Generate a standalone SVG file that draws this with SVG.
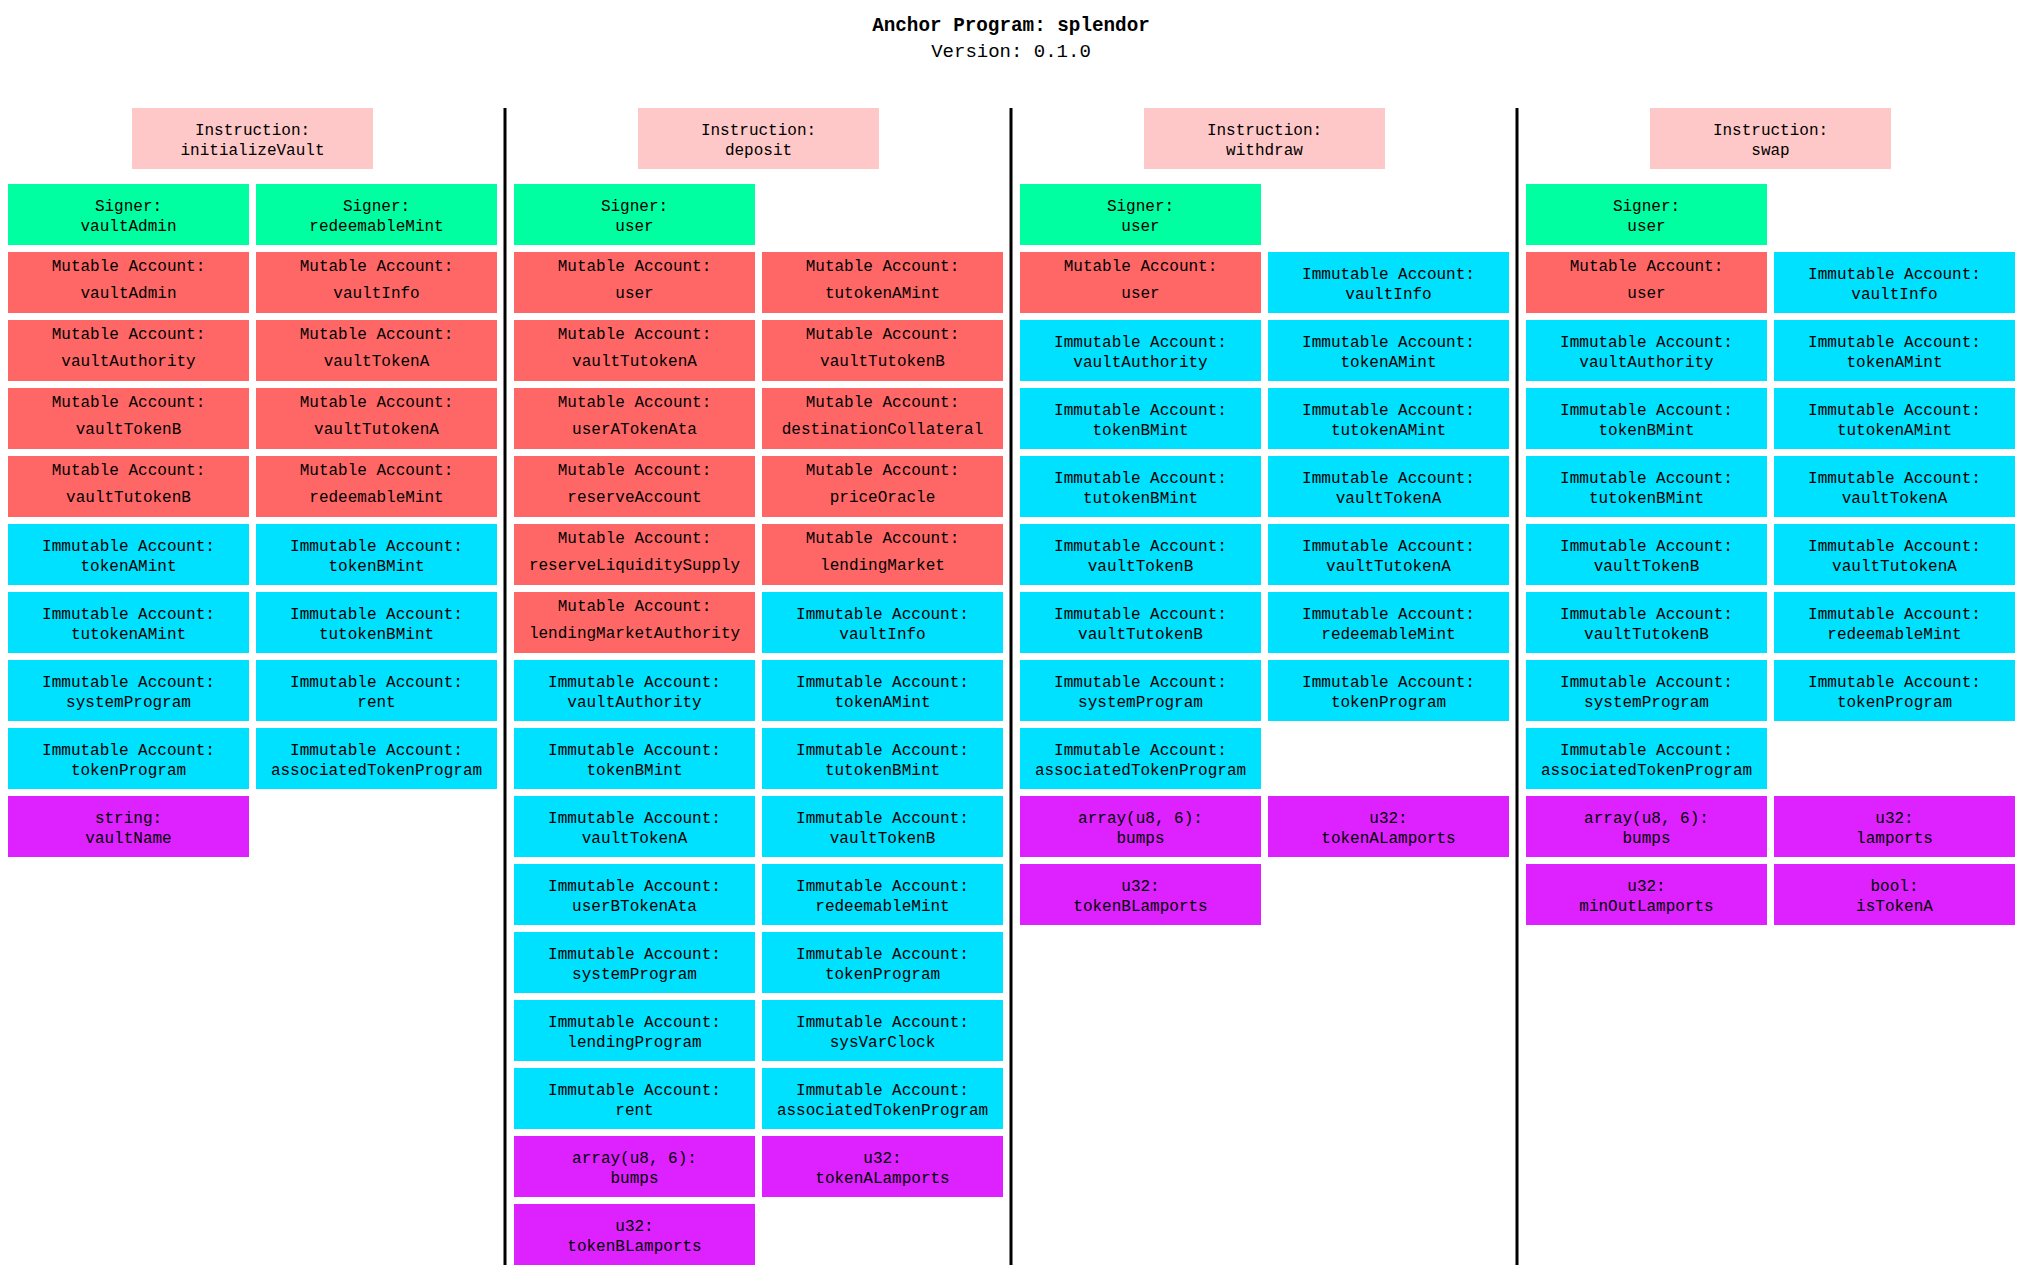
<svg xmlns="http://www.w3.org/2000/svg" width="2022" height="1288" viewBox="0 0 2022 1288">
<style>
.ins{fill:#FFC8C8}.sig{fill:#00FFA0}.mut{fill:#FF6666}.imm{fill:#00E0FF}.arg{fill:#DD22FF}
text{font-family:"Liberation Mono","Courier New",monospace;font-size:16px;text-anchor:middle;fill:#000}
.title{font-size:19.3px;font-weight:bold}.ver{font-size:19px}
.sep{stroke:#000;stroke-width:3}
</style>
<rect width="2022" height="1288" fill="#fff"/>
<text class="title" x="1011" y="31">Anchor Program: splendor</text>
<text class="ver" x="1011" y="57">Version: 0.1.0</text>
<g id="separators">
<line class="sep" x1="505" y1="108" x2="505" y2="1265"/>
<line class="sep" x1="1011" y1="108" x2="1011" y2="1265"/>
<line class="sep" x1="1517" y1="108" x2="1517" y2="1265"/>
</g>
<!-- initializeVault -->
<g id="ix-initializeVault" transform="translate(132,108)"><rect class="ins" width="241" height="61"/><text x="120.5" y="27">Instruction:</text><text x="120.5" y="47">initializeVault</text></g>
<g id="iv-signer-vaultAdmin" transform="translate(8,184)"><rect class="sig" width="241" height="61"/><text x="120.5" y="27">Signer:</text><text x="120.5" y="47">vaultAdmin</text></g>
<g id="iv-signer-redeemableMint" transform="translate(256,184)"><rect class="sig" width="241" height="61"/><text x="120.5" y="27">Signer:</text><text x="120.5" y="47">redeemableMint</text></g>
<g id="iv-mut-vaultAdmin" transform="translate(8,252)"><rect class="mut" width="241" height="61"/><text x="120.5" y="19">Mutable Account:</text><text x="120.5" y="46">vaultAdmin</text></g>
<g id="iv-mut-vaultInfo" transform="translate(256,252)"><rect class="mut" width="241" height="61"/><text x="120.5" y="19">Mutable Account:</text><text x="120.5" y="46">vaultInfo</text></g>
<g id="iv-mut-vaultAuthority" transform="translate(8,320)"><rect class="mut" width="241" height="61"/><text x="120.5" y="19">Mutable Account:</text><text x="120.5" y="46">vaultAuthority</text></g>
<g id="iv-mut-vaultTokenA" transform="translate(256,320)"><rect class="mut" width="241" height="61"/><text x="120.5" y="19">Mutable Account:</text><text x="120.5" y="46">vaultTokenA</text></g>
<g id="iv-mut-vaultTokenB" transform="translate(8,388)"><rect class="mut" width="241" height="61"/><text x="120.5" y="19">Mutable Account:</text><text x="120.5" y="46">vaultTokenB</text></g>
<g id="iv-mut-vaultTutokenA" transform="translate(256,388)"><rect class="mut" width="241" height="61"/><text x="120.5" y="19">Mutable Account:</text><text x="120.5" y="46">vaultTutokenA</text></g>
<g id="iv-mut-vaultTutokenB" transform="translate(8,456)"><rect class="mut" width="241" height="61"/><text x="120.5" y="19">Mutable Account:</text><text x="120.5" y="46">vaultTutokenB</text></g>
<g id="iv-mut-redeemableMint" transform="translate(256,456)"><rect class="mut" width="241" height="61"/><text x="120.5" y="19">Mutable Account:</text><text x="120.5" y="46">redeemableMint</text></g>
<g id="iv-imm-tokenAMint" transform="translate(8,524)"><rect class="imm" width="241" height="61"/><text x="120.5" y="27">Immutable Account:</text><text x="120.5" y="47">tokenAMint</text></g>
<g id="iv-imm-tokenBMint" transform="translate(256,524)"><rect class="imm" width="241" height="61"/><text x="120.5" y="27">Immutable Account:</text><text x="120.5" y="47">tokenBMint</text></g>
<g id="iv-imm-tutokenAMint" transform="translate(8,592)"><rect class="imm" width="241" height="61"/><text x="120.5" y="27">Immutable Account:</text><text x="120.5" y="47">tutokenAMint</text></g>
<g id="iv-imm-tutokenBMint" transform="translate(256,592)"><rect class="imm" width="241" height="61"/><text x="120.5" y="27">Immutable Account:</text><text x="120.5" y="47">tutokenBMint</text></g>
<g id="iv-imm-systemProgram" transform="translate(8,660)"><rect class="imm" width="241" height="61"/><text x="120.5" y="27">Immutable Account:</text><text x="120.5" y="47">systemProgram</text></g>
<g id="iv-imm-rent" transform="translate(256,660)"><rect class="imm" width="241" height="61"/><text x="120.5" y="27">Immutable Account:</text><text x="120.5" y="47">rent</text></g>
<g id="iv-imm-tokenProgram" transform="translate(8,728)"><rect class="imm" width="241" height="61"/><text x="120.5" y="27">Immutable Account:</text><text x="120.5" y="47">tokenProgram</text></g>
<g id="iv-imm-associatedTokenProgram" transform="translate(256,728)"><rect class="imm" width="241" height="61"/><text x="120.5" y="27">Immutable Account:</text><text x="120.5" y="47">associatedTokenProgram</text></g>
<g id="iv-arg-vaultName" transform="translate(8,796)"><rect class="arg" width="241" height="61"/><text x="120.5" y="27">string:</text><text x="120.5" y="47">vaultName</text></g>
<!-- deposit -->
<g id="ix-deposit" transform="translate(638,108)"><rect class="ins" width="241" height="61"/><text x="120.5" y="27">Instruction:</text><text x="120.5" y="47">deposit</text></g>
<g id="dp-signer-user" transform="translate(514,184)"><rect class="sig" width="241" height="61"/><text x="120.5" y="27">Signer:</text><text x="120.5" y="47">user</text></g>
<g id="dp-mut-user" transform="translate(514,252)"><rect class="mut" width="241" height="61"/><text x="120.5" y="19">Mutable Account:</text><text x="120.5" y="46">user</text></g>
<g id="dp-mut-tutokenAMint" transform="translate(762,252)"><rect class="mut" width="241" height="61"/><text x="120.5" y="19">Mutable Account:</text><text x="120.5" y="46">tutokenAMint</text></g>
<g id="dp-mut-vaultTutokenA" transform="translate(514,320)"><rect class="mut" width="241" height="61"/><text x="120.5" y="19">Mutable Account:</text><text x="120.5" y="46">vaultTutokenA</text></g>
<g id="dp-mut-vaultTutokenB" transform="translate(762,320)"><rect class="mut" width="241" height="61"/><text x="120.5" y="19">Mutable Account:</text><text x="120.5" y="46">vaultTutokenB</text></g>
<g id="dp-mut-userATokenAta" transform="translate(514,388)"><rect class="mut" width="241" height="61"/><text x="120.5" y="19">Mutable Account:</text><text x="120.5" y="46">userATokenAta</text></g>
<g id="dp-mut-destinationCollateral" transform="translate(762,388)"><rect class="mut" width="241" height="61"/><text x="120.5" y="19">Mutable Account:</text><text x="120.5" y="46">destinationCollateral</text></g>
<g id="dp-mut-reserveAccount" transform="translate(514,456)"><rect class="mut" width="241" height="61"/><text x="120.5" y="19">Mutable Account:</text><text x="120.5" y="46">reserveAccount</text></g>
<g id="dp-mut-priceOracle" transform="translate(762,456)"><rect class="mut" width="241" height="61"/><text x="120.5" y="19">Mutable Account:</text><text x="120.5" y="46">priceOracle</text></g>
<g id="dp-mut-reserveLiquiditySupply" transform="translate(514,524)"><rect class="mut" width="241" height="61"/><text x="120.5" y="19">Mutable Account:</text><text x="120.5" y="46">reserveLiquiditySupply</text></g>
<g id="dp-mut-lendingMarket" transform="translate(762,524)"><rect class="mut" width="241" height="61"/><text x="120.5" y="19">Mutable Account:</text><text x="120.5" y="46">lendingMarket</text></g>
<g id="dp-mut-lendingMarketAuthority" transform="translate(514,592)"><rect class="mut" width="241" height="61"/><text x="120.5" y="19">Mutable Account:</text><text x="120.5" y="46">lendingMarketAuthority</text></g>
<g id="dp-imm-vaultInfo" transform="translate(762,592)"><rect class="imm" width="241" height="61"/><text x="120.5" y="27">Immutable Account:</text><text x="120.5" y="47">vaultInfo</text></g>
<g id="dp-imm-vaultAuthority" transform="translate(514,660)"><rect class="imm" width="241" height="61"/><text x="120.5" y="27">Immutable Account:</text><text x="120.5" y="47">vaultAuthority</text></g>
<g id="dp-imm-tokenAMint" transform="translate(762,660)"><rect class="imm" width="241" height="61"/><text x="120.5" y="27">Immutable Account:</text><text x="120.5" y="47">tokenAMint</text></g>
<g id="dp-imm-tokenBMint" transform="translate(514,728)"><rect class="imm" width="241" height="61"/><text x="120.5" y="27">Immutable Account:</text><text x="120.5" y="47">tokenBMint</text></g>
<g id="dp-imm-tutokenBMint" transform="translate(762,728)"><rect class="imm" width="241" height="61"/><text x="120.5" y="27">Immutable Account:</text><text x="120.5" y="47">tutokenBMint</text></g>
<g id="dp-imm-vaultTokenA" transform="translate(514,796)"><rect class="imm" width="241" height="61"/><text x="120.5" y="27">Immutable Account:</text><text x="120.5" y="47">vaultTokenA</text></g>
<g id="dp-imm-vaultTokenB" transform="translate(762,796)"><rect class="imm" width="241" height="61"/><text x="120.5" y="27">Immutable Account:</text><text x="120.5" y="47">vaultTokenB</text></g>
<g id="dp-imm-userBTokenAta" transform="translate(514,864)"><rect class="imm" width="241" height="61"/><text x="120.5" y="27">Immutable Account:</text><text x="120.5" y="47">userBTokenAta</text></g>
<g id="dp-imm-redeemableMint" transform="translate(762,864)"><rect class="imm" width="241" height="61"/><text x="120.5" y="27">Immutable Account:</text><text x="120.5" y="47">redeemableMint</text></g>
<g id="dp-imm-systemProgram" transform="translate(514,932)"><rect class="imm" width="241" height="61"/><text x="120.5" y="27">Immutable Account:</text><text x="120.5" y="47">systemProgram</text></g>
<g id="dp-imm-tokenProgram" transform="translate(762,932)"><rect class="imm" width="241" height="61"/><text x="120.5" y="27">Immutable Account:</text><text x="120.5" y="47">tokenProgram</text></g>
<g id="dp-imm-lendingProgram" transform="translate(514,1000)"><rect class="imm" width="241" height="61"/><text x="120.5" y="27">Immutable Account:</text><text x="120.5" y="47">lendingProgram</text></g>
<g id="dp-imm-sysVarClock" transform="translate(762,1000)"><rect class="imm" width="241" height="61"/><text x="120.5" y="27">Immutable Account:</text><text x="120.5" y="47">sysVarClock</text></g>
<g id="dp-imm-rent" transform="translate(514,1068)"><rect class="imm" width="241" height="61"/><text x="120.5" y="27">Immutable Account:</text><text x="120.5" y="47">rent</text></g>
<g id="dp-imm-associatedTokenProgram" transform="translate(762,1068)"><rect class="imm" width="241" height="61"/><text x="120.5" y="27">Immutable Account:</text><text x="120.5" y="47">associatedTokenProgram</text></g>
<g id="dp-arg-bumps" transform="translate(514,1136)"><rect class="arg" width="241" height="61"/><text x="120.5" y="27">array(u8, 6):</text><text x="120.5" y="47">bumps</text></g>
<g id="dp-arg-tokenALamports" transform="translate(762,1136)"><rect class="arg" width="241" height="61"/><text x="120.5" y="27">u32:</text><text x="120.5" y="47">tokenALamports</text></g>
<g id="dp-arg-tokenBLamports" transform="translate(514,1204)"><rect class="arg" width="241" height="61"/><text x="120.5" y="27">u32:</text><text x="120.5" y="47">tokenBLamports</text></g>
<!-- withdraw -->
<g id="ix-withdraw" transform="translate(1144,108)"><rect class="ins" width="241" height="61"/><text x="120.5" y="27">Instruction:</text><text x="120.5" y="47">withdraw</text></g>
<g id="wd-signer-user" transform="translate(1020,184)"><rect class="sig" width="241" height="61"/><text x="120.5" y="27">Signer:</text><text x="120.5" y="47">user</text></g>
<g id="wd-mut-user" transform="translate(1020,252)"><rect class="mut" width="241" height="61"/><text x="120.5" y="19">Mutable Account:</text><text x="120.5" y="46">user</text></g>
<g id="wd-imm-vaultInfo" transform="translate(1268,252)"><rect class="imm" width="241" height="61"/><text x="120.5" y="27">Immutable Account:</text><text x="120.5" y="47">vaultInfo</text></g>
<g id="wd-imm-vaultAuthority" transform="translate(1020,320)"><rect class="imm" width="241" height="61"/><text x="120.5" y="27">Immutable Account:</text><text x="120.5" y="47">vaultAuthority</text></g>
<g id="wd-imm-tokenAMint" transform="translate(1268,320)"><rect class="imm" width="241" height="61"/><text x="120.5" y="27">Immutable Account:</text><text x="120.5" y="47">tokenAMint</text></g>
<g id="wd-imm-tokenBMint" transform="translate(1020,388)"><rect class="imm" width="241" height="61"/><text x="120.5" y="27">Immutable Account:</text><text x="120.5" y="47">tokenBMint</text></g>
<g id="wd-imm-tutokenAMint" transform="translate(1268,388)"><rect class="imm" width="241" height="61"/><text x="120.5" y="27">Immutable Account:</text><text x="120.5" y="47">tutokenAMint</text></g>
<g id="wd-imm-tutokenBMint" transform="translate(1020,456)"><rect class="imm" width="241" height="61"/><text x="120.5" y="27">Immutable Account:</text><text x="120.5" y="47">tutokenBMint</text></g>
<g id="wd-imm-vaultTokenA" transform="translate(1268,456)"><rect class="imm" width="241" height="61"/><text x="120.5" y="27">Immutable Account:</text><text x="120.5" y="47">vaultTokenA</text></g>
<g id="wd-imm-vaultTokenB" transform="translate(1020,524)"><rect class="imm" width="241" height="61"/><text x="120.5" y="27">Immutable Account:</text><text x="120.5" y="47">vaultTokenB</text></g>
<g id="wd-imm-vaultTutokenA" transform="translate(1268,524)"><rect class="imm" width="241" height="61"/><text x="120.5" y="27">Immutable Account:</text><text x="120.5" y="47">vaultTutokenA</text></g>
<g id="wd-imm-vaultTutokenB" transform="translate(1020,592)"><rect class="imm" width="241" height="61"/><text x="120.5" y="27">Immutable Account:</text><text x="120.5" y="47">vaultTutokenB</text></g>
<g id="wd-imm-redeemableMint" transform="translate(1268,592)"><rect class="imm" width="241" height="61"/><text x="120.5" y="27">Immutable Account:</text><text x="120.5" y="47">redeemableMint</text></g>
<g id="wd-imm-systemProgram" transform="translate(1020,660)"><rect class="imm" width="241" height="61"/><text x="120.5" y="27">Immutable Account:</text><text x="120.5" y="47">systemProgram</text></g>
<g id="wd-imm-tokenProgram" transform="translate(1268,660)"><rect class="imm" width="241" height="61"/><text x="120.5" y="27">Immutable Account:</text><text x="120.5" y="47">tokenProgram</text></g>
<g id="wd-imm-associatedTokenProgram" transform="translate(1020,728)"><rect class="imm" width="241" height="61"/><text x="120.5" y="27">Immutable Account:</text><text x="120.5" y="47">associatedTokenProgram</text></g>
<g id="wd-arg-bumps" transform="translate(1020,796)"><rect class="arg" width="241" height="61"/><text x="120.5" y="27">array(u8, 6):</text><text x="120.5" y="47">bumps</text></g>
<g id="wd-arg-tokenALamports" transform="translate(1268,796)"><rect class="arg" width="241" height="61"/><text x="120.5" y="27">u32:</text><text x="120.5" y="47">tokenALamports</text></g>
<g id="wd-arg-tokenBLamports" transform="translate(1020,864)"><rect class="arg" width="241" height="61"/><text x="120.5" y="27">u32:</text><text x="120.5" y="47">tokenBLamports</text></g>
<!-- swap -->
<g id="ix-swap" transform="translate(1650,108)"><rect class="ins" width="241" height="61"/><text x="120.5" y="27">Instruction:</text><text x="120.5" y="47">swap</text></g>
<g id="sw-signer-user" transform="translate(1526,184)"><rect class="sig" width="241" height="61"/><text x="120.5" y="27">Signer:</text><text x="120.5" y="47">user</text></g>
<g id="sw-mut-user" transform="translate(1526,252)"><rect class="mut" width="241" height="61"/><text x="120.5" y="19">Mutable Account:</text><text x="120.5" y="46">user</text></g>
<g id="sw-imm-vaultInfo" transform="translate(1774,252)"><rect class="imm" width="241" height="61"/><text x="120.5" y="27">Immutable Account:</text><text x="120.5" y="47">vaultInfo</text></g>
<g id="sw-imm-vaultAuthority" transform="translate(1526,320)"><rect class="imm" width="241" height="61"/><text x="120.5" y="27">Immutable Account:</text><text x="120.5" y="47">vaultAuthority</text></g>
<g id="sw-imm-tokenAMint" transform="translate(1774,320)"><rect class="imm" width="241" height="61"/><text x="120.5" y="27">Immutable Account:</text><text x="120.5" y="47">tokenAMint</text></g>
<g id="sw-imm-tokenBMint" transform="translate(1526,388)"><rect class="imm" width="241" height="61"/><text x="120.5" y="27">Immutable Account:</text><text x="120.5" y="47">tokenBMint</text></g>
<g id="sw-imm-tutokenAMint" transform="translate(1774,388)"><rect class="imm" width="241" height="61"/><text x="120.5" y="27">Immutable Account:</text><text x="120.5" y="47">tutokenAMint</text></g>
<g id="sw-imm-tutokenBMint" transform="translate(1526,456)"><rect class="imm" width="241" height="61"/><text x="120.5" y="27">Immutable Account:</text><text x="120.5" y="47">tutokenBMint</text></g>
<g id="sw-imm-vaultTokenA" transform="translate(1774,456)"><rect class="imm" width="241" height="61"/><text x="120.5" y="27">Immutable Account:</text><text x="120.5" y="47">vaultTokenA</text></g>
<g id="sw-imm-vaultTokenB" transform="translate(1526,524)"><rect class="imm" width="241" height="61"/><text x="120.5" y="27">Immutable Account:</text><text x="120.5" y="47">vaultTokenB</text></g>
<g id="sw-imm-vaultTutokenA" transform="translate(1774,524)"><rect class="imm" width="241" height="61"/><text x="120.5" y="27">Immutable Account:</text><text x="120.5" y="47">vaultTutokenA</text></g>
<g id="sw-imm-vaultTutokenB" transform="translate(1526,592)"><rect class="imm" width="241" height="61"/><text x="120.5" y="27">Immutable Account:</text><text x="120.5" y="47">vaultTutokenB</text></g>
<g id="sw-imm-redeemableMint" transform="translate(1774,592)"><rect class="imm" width="241" height="61"/><text x="120.5" y="27">Immutable Account:</text><text x="120.5" y="47">redeemableMint</text></g>
<g id="sw-imm-systemProgram" transform="translate(1526,660)"><rect class="imm" width="241" height="61"/><text x="120.5" y="27">Immutable Account:</text><text x="120.5" y="47">systemProgram</text></g>
<g id="sw-imm-tokenProgram" transform="translate(1774,660)"><rect class="imm" width="241" height="61"/><text x="120.5" y="27">Immutable Account:</text><text x="120.5" y="47">tokenProgram</text></g>
<g id="sw-imm-associatedTokenProgram" transform="translate(1526,728)"><rect class="imm" width="241" height="61"/><text x="120.5" y="27">Immutable Account:</text><text x="120.5" y="47">associatedTokenProgram</text></g>
<g id="sw-arg-bumps" transform="translate(1526,796)"><rect class="arg" width="241" height="61"/><text x="120.5" y="27">array(u8, 6):</text><text x="120.5" y="47">bumps</text></g>
<g id="sw-arg-lamports" transform="translate(1774,796)"><rect class="arg" width="241" height="61"/><text x="120.5" y="27">u32:</text><text x="120.5" y="47">lamports</text></g>
<g id="sw-arg-minOutLamports" transform="translate(1526,864)"><rect class="arg" width="241" height="61"/><text x="120.5" y="27">u32:</text><text x="120.5" y="47">minOutLamports</text></g>
<g id="sw-arg-isTokenA" transform="translate(1774,864)"><rect class="arg" width="241" height="61"/><text x="120.5" y="27">bool:</text><text x="120.5" y="47">isTokenA</text></g>
</svg>
